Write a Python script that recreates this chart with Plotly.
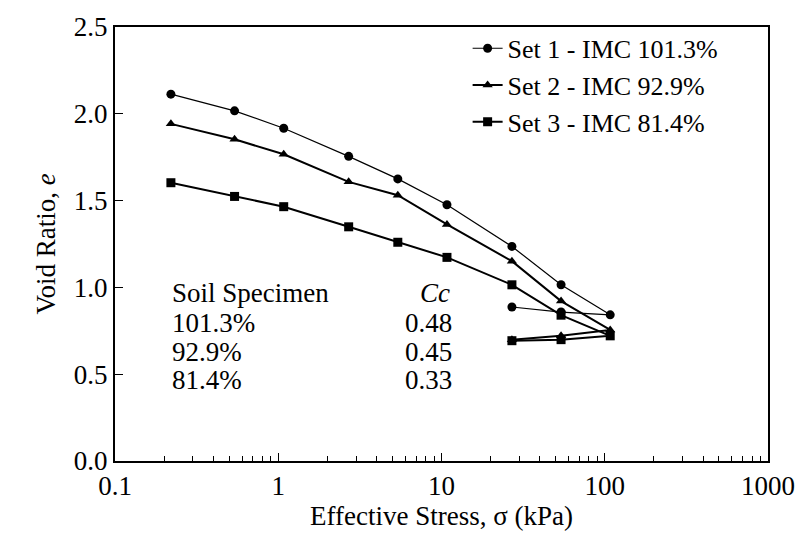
import plotly.graph_objects as go

# Effective stress (kPa): loading then unloading
stress = [0.22, 0.54, 1.08, 2.7, 5.4, 10.8, 27, 54, 108, 54, 27]

set1_e = [2.113, 2.017, 1.917, 1.755, 1.625, 1.476, 1.236, 1.015, 0.842, 0.858, 0.887]
set2_e = [1.942, 1.853, 1.767, 1.608, 1.531, 1.363, 1.151, 0.921, 0.755, 0.721, 0.699]
set3_e = [1.603, 1.524, 1.465, 1.349, 1.260, 1.173, 1.015, 0.840, 0.721, 0.699, 0.693]

series_names = ["Set 1 - IMC 101.3%", "Set 2 - IMC 92.9%", "Set 3 - IMC 81.4%"]

specimens = ["101.3%", "92.9%", "81.4%"]
cc_values = ["0.48", "0.45", "0.33"]

x_major = [0.1, 1, 10, 100, 1000]
x_major_text = ["0.1", "1", "10", "100", "1000"]
x_minor = [m * d for d in [0.1, 1, 10, 100] for m in range(2, 10)]
y_ticks = [0.0, 0.5, 1.0, 1.5, 2.0, 2.5]

FONT = "Liberation Serif, Times New Roman, serif"
FS = 27

fig = go.Figure()
styles = [
    dict(symbol="circle", size=9, width=1.2),
    dict(symbol="triangle-up", size=9, width=2),
    dict(symbol="square", size=9, width=2),
]
for name, e, st in zip(series_names, [set1_e, set2_e, set3_e], styles):
    fig.add_trace(go.Scatter(
        x=stress, y=e, name=name, mode="lines+markers",
        line=dict(color="black", width=st["width"]),
        marker=dict(symbol=st["symbol"], size=st["size"], color="black"),
    ))

fig.update_layout(
    width=807, height=551,
    margin=dict(l=115, r=30, t=19, b=90),
    paper_bgcolor="white", plot_bgcolor="white",
    font=dict(family=FONT, size=FS, color="black"),
    showlegend=True,
    legend=dict(
        x=0.54, y=1.005, xanchor="left", yanchor="top",
        bgcolor="rgba(0,0,0,0)", borderwidth=0,
        font=dict(family=FONT, size=26, color="black"),
        tracegroupgap=0, itemwidth=30,
    ),
    xaxis=dict(
        type="log", range=[-1, 3],
        tickmode="array", tickvals=x_major, ticktext=x_major_text,
        ticks="inside", ticklen=8, tickwidth=1, tickcolor="black",
        showline=True, linecolor="black", linewidth=2, mirror=True,
        showgrid=False, zeroline=False,
        minor=dict(tickmode="array", tickvals=x_minor, ticks="inside",
                   ticklen=5, tickwidth=1, tickcolor="black", showgrid=False),
        title=dict(text="Effective Stress, σ (kPa)", font=dict(size=FS), standoff=6),
        tickfont=dict(size=FS),
    ),
    yaxis=dict(
        range=[0, 2.5],
        tickmode="array", tickvals=y_ticks, ticktext=[f"{v:.1f}" for v in y_ticks],
        ticks="inside", ticklen=8, tickwidth=1, tickcolor="black",
        showline=True, linecolor="black", linewidth=2, mirror=True,
        showgrid=False, zeroline=False,
        title=dict(text="Void Ratio, <i>e</i>", font=dict(size=FS), standoff=10),
        tickfont=dict(size=FS),
    ),
)

# Compression index table
row_y = [290, 320, 350, 379]
def py(ypix):
    return 1 - (ypix - 19) / (551 - 19 - 90)
def px(xpix):
    return (xpix - 115) / (807 - 115 - 30)

anns = [dict(text="Soil Specimen", x=px(171), y=py(row_y[0]), xanchor="left"),
        dict(text="<i>Cc</i>", x=px(422), y=py(row_y[0]), xanchor="left")]
for i, (s, c) in enumerate(zip(specimens, cc_values)):
    anns.append(dict(text=s, x=px(171), y=py(row_y[i + 1]), xanchor="left"))
    anns.append(dict(text=c, x=px(407), y=py(row_y[i + 1]), xanchor="left"))
for a in anns:
    fig.add_annotation(xref="paper", yref="paper", yanchor="middle",
                       showarrow=False, font=dict(family=FONT, size=FS, color="black"), **a)

fig.write_html("out.html")
